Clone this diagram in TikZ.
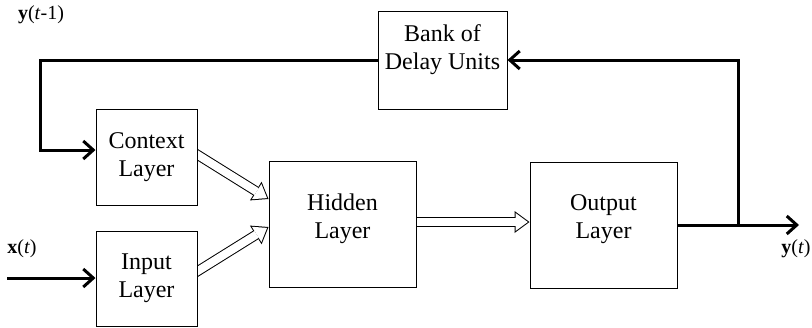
\documentclass[tikz,border=0pt]{standalone}
\usepackage{fontspec}
\setmainfont{Liberation Serif}
\usetikzlibrary{arrows.meta,backgrounds}

\tikzset{
    layerbox/.style={draw, fill=white, line width=1pt, minimum width=101pt, minimum height=96pt,
        align=center, inner sep=0pt, font=\fontsize{24}{28}\selectfont},
    widebox/.style={layerbox, minimum width=147pt, minimum height=126pt},
    signal/.style={line width=3pt, -{Straight Barb[length=10pt,width=18pt,line width=3pt]}},
    hollowout/.style={draw=black, line width=10pt,
        -{Triangle[length=15pt,width=22pt,line width=0pt]}},
    hollowin/.style={draw=white, line width=8pt, shorten >=1.7pt,
        -{Triangle[length=12.3pt,width=18pt,line width=0pt]}},
    sig/.style={font=\fontsize{20}{24}\selectfont, inner sep=0pt}
}

\begin{document}
\begin{tikzpicture}[x=1pt, y=-1pt]
        \useasboundingbox (0,0) rectangle (812,327);
        % the layers
        \node [layerbox, minimum width=129pt, minimum height=98pt, text depth=26pt]
            (delay) at (442.5,60) {Bank of\\Delay Units};
        \node [layerbox] (context) at (146.5,157) {Context\\Layer};
        \node [layerbox, minimum height=95pt] (input) at (146.5,278.5) {Input\\Layer};
        \node [widebox, text depth=16pt] (hidden) at (342.5,224) {Hidden\\Layer};
        \node [widebox, text depth=16pt] (output) at (603.5,225) {Output\\Layer};
        % signals
        \coordinate (xin) at (7,278);
        \coordinate (yout) at (799,225);
        \coordinate (tap) at (738,225);
        \coordinate (back) at (40,150);
        \node [sig] (xlabel) at (22,249) {\textbf{x}(\textit{t})};
        \node [sig] (ylabel) at (796,249) {\textbf{y}(\textit{t})};
        \node [sig] (yprev) at (41,15) {\textbf{y}(\textit{t}-1)};
        \draw [signal] (xin) -- (input.west |- xin);
        \draw [signal] (output.east) -- (yout);
        \draw [signal] (tap) |- (delay.east);
        \draw [signal] (delay.west) -| (back) -- (context.west |- back);
        % wide arrows, tails hidden under the boxes
        \begin{scope}[on background layer]
            \foreach \from/\fy/\to/\ty in {context/151/hidden/199, input/275/hidden/227, hidden/222/output/222}
            {
                \draw [hollowout] ([xshift=-6pt]\from.east |- 0,\fy) -- (\to.west |- 0,\ty);
                \draw [hollowin] ([xshift=-6pt]\from.east |- 0,\fy) -- (\to.west |- 0,\ty);
            }
        \end{scope}
    \end{tikzpicture}
\end{document}
